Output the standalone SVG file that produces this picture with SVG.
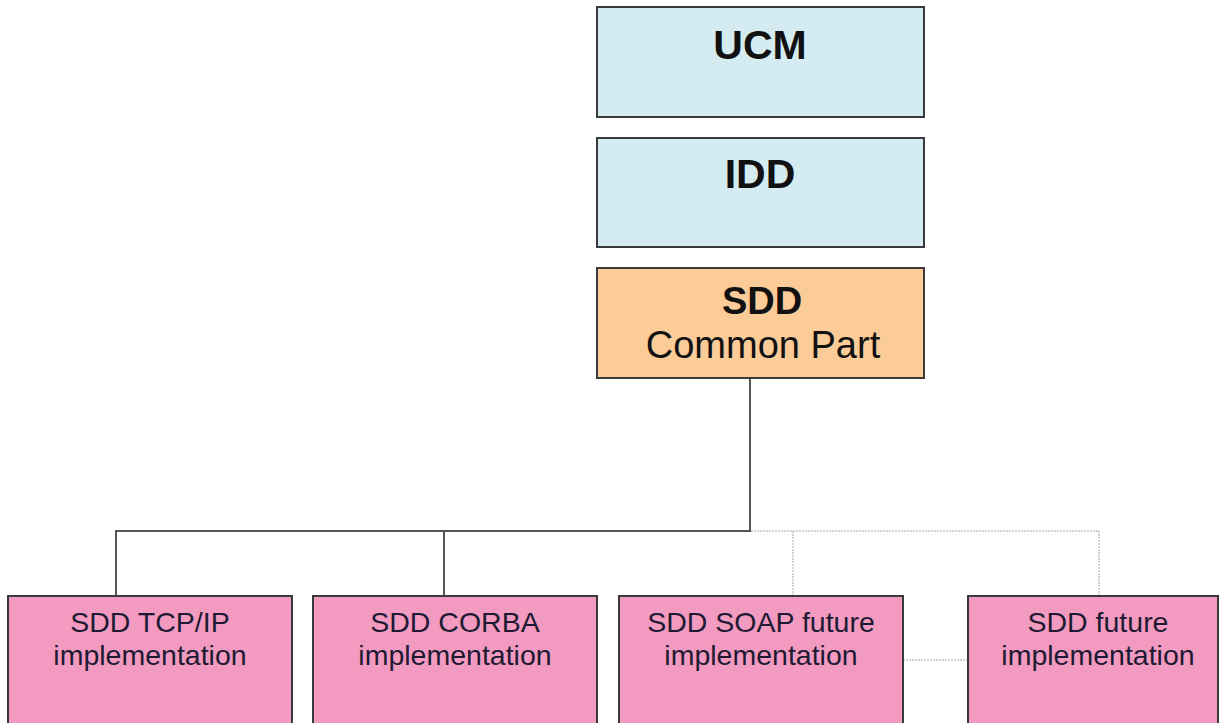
<svg xmlns="http://www.w3.org/2000/svg" width="1220" height="723" viewBox="0 0 1220 723">
  <style>
    .box { stroke: #3a3a3a; stroke-width: 2; }
    .blue { fill: #d4ecf1; }
    .orange { fill: #fbcb98; }
    .pink { fill: #f39ac0; }
    .title { font-family: "Liberation Sans", Arial, sans-serif; font-weight: bold; fill: #111; text-anchor: middle; }
    .sub { font-family: "Liberation Sans", Arial, sans-serif; fill: #111; text-anchor: middle; }
    .impl { font-family: "Liberation Sans", Arial, sans-serif; font-size: 28.5px; fill: #1e1a33; text-anchor: middle; }
    .solid { fill: none; stroke: #555; stroke-width: 2; }
    .dotted { fill: none; stroke: #c4c4c4; stroke-width: 1.5; stroke-dasharray: 2 1; }
  </style>

  <rect width="1220" height="723" fill="#ffffff"/>

  <!-- connectors -->
  <g id="connectors">
    <path class="solid" d="M750,378 V531 H116 V596"/>
    <path class="solid" d="M444,531 V596"/>
    <path class="dotted" d="M751,531 H1099 V596"/>
    <path class="dotted" d="M793,531 V596"/>
    <path class="dotted" d="M903,660 H968"/>
  </g>

  <g id="ucm">
    <rect class="box blue" x="597" y="7" width="327" height="110"/>
    <text class="title" x="760" y="59" font-size="41">UCM</text>
  </g>

  <g id="idd">
    <rect class="box blue" x="597" y="138" width="327" height="109"/>
    <text class="title" x="760" y="188" font-size="41">IDD</text>
  </g>

  <g id="sdd-common">
    <rect class="box orange" x="597" y="268" width="327" height="110"/>
    <text class="title" x="762" y="314" font-size="38">SDD</text>
    <text class="sub" x="763" y="358" font-size="38">Common Part</text>
  </g>

  <g id="sdd-tcpip">
    <rect class="box pink" x="8" y="596" width="284" height="140"/>
    <text class="impl" x="150" y="632">SDD TCP/IP</text>
    <text class="impl" x="150" y="665">implementation</text>
  </g>

  <g id="sdd-corba">
    <rect class="box pink" x="313" y="596" width="284" height="140"/>
    <text class="impl" x="455" y="632">SDD CORBA</text>
    <text class="impl" x="455" y="665">implementation</text>
  </g>

  <g id="sdd-soap">
    <rect class="box pink" x="619" y="596" width="284" height="140"/>
    <text class="impl" x="761" y="632">SDD SOAP future</text>
    <text class="impl" x="761" y="665">implementation</text>
  </g>

  <g id="sdd-future">
    <rect class="box pink" x="968" y="596" width="250" height="140"/>
    <text class="impl" x="1098" y="632">SDD future</text>
    <text class="impl" x="1098" y="665">implementation</text>
  </g>
</svg>
